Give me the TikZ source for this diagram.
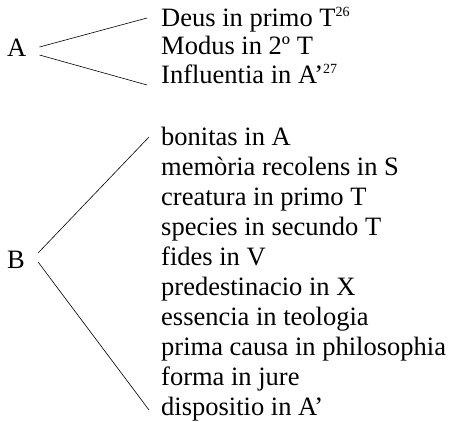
\documentclass[tikz,border=0pt]{standalone}
\usepackage{fontspec}
\setmainfont{Liberation Serif}
\newcommand{\notemark}[1]{\textsuperscript{\fontsize{14}{14}\selectfont #1}}
\begin{document}
\begin{tikzpicture}[x=1pt,y=-1pt,
    item/.style={anchor=base west, inner sep=0pt, font=\fontsize{26.5}{30}\selectfont},
    branch/.style={line width=0.6pt}]
    \useasboundingbox (0,0) rectangle (450,421);
    % First group
    \node[item] (A) at (7,56) {A};
    \foreach \t [count=\i] in {{Deus in primo T\notemark{26}},
        {Modus in 2º T}, {Influentia in A’\notemark{27}}} {
        \node[item] (a\i) at (161,{26+28.5*(\i-1)}) {\t};
    }
    \draw[branch] ([shift={(13,-9)}]A.base east) -- ([shift={(-14,-8)}]a1.base west);
    \draw[branch] ([shift={(13,-1)}]A.base east) -- ([shift={(-14,2)}]a3.base west);

    % Second group
    \node[item] (B) at (7,268) {B};
    \foreach \t [count=\i] in {bonitas in A, memòria recolens in S,
        creatura in primo T, species in secundo T, fides in V,
        predestinacio in X, essencia in teologia,
        prima causa in philosophia, forma in jure, dispositio in A’} {
        \node[item] (b\i) at (161,{145+30*(\i-1)}) {\t};
    }
    \draw[branch] ([shift={(13,-15)}]B.base east) -- ([shift={(-12,-8)}]b1.base west);
    \draw[branch] ([shift={(13,-6)}]B.base east) -- ([shift={(-12,-5)}]b10.base west);
\end{tikzpicture}
\end{document}
